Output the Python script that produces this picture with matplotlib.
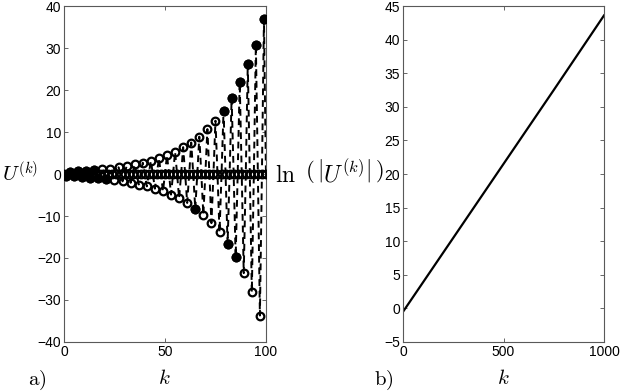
import numpy as np
import matplotlib
matplotlib.use("Agg")
import matplotlib.pyplot as plt

plt.rcParams['font.family'] = ['Liberation Sans', 'DejaVu Sans']
plt.rcParams['mathtext.fontset'] = 'cm'

# panel a): values
# positive peaks at k = 3, 7, ..., 99
k_pos = list(range(3, 100, 4))
u_pos = [0.5, 0.6, 0.75, 0.9, 1.1, 1.3, 1.6, 1.9, 2.3, 2.7, 3.2, 3.8, 4.5,
         5.3, 6.4, 7.5, 8.9, 10.7, 12.7, 15.1, 18.1, 21.9, 26.3, 30.8, 36.8]
# negative peaks at k = 1, 5, ..., 97
k_neg = list(range(1, 98, 4))
u_neg = [-0.45, -0.55, -0.7, -0.85, -1.0, -1.2, -1.45, -1.75, -2.1, -2.5,
         -2.95, -3.5, -4.1, -4.9, -5.8, -6.9, -8.3, -9.7, -11.7, -13.9,
         -16.6, -19.8, -23.6, -28.2, -33.7]
# markers that look filled in the reference
filled_k = [1, 5, 9, 13, 17, 21, 3, 7, 11, 15, 79, 83, 87, 91, 95, 99,
            65, 81, 85]

# panel b): ln(|U^(k)|)
k_b = [0, 250, 500, 750, 1000]
ln_u = [-0.5, 10.5, 21.5, 32.5, 43.6]

# full sequence, even k are zero
k_all = np.arange(0, 101)
u_all = np.zeros(101)
u_all[k_pos] = u_pos
u_all[k_neg] = u_neg

fig = plt.figure(figsize=(6.23, 3.92), dpi=100)
ax1 = fig.add_axes([0.1027, 0.1276, 0.3242, 0.857])
ax2 = fig.add_axes([0.6469, 0.1276, 0.3226, 0.857])

dash = (0, (3.5, 2.5))
ax1.plot(k_all, u_all, color='k', lw=1.4, ls=dash, zorder=2)
ax1.plot(k_all, u_all, ls='none', marker='o', ms=5.5, mec='k', mfc='none',
         mew=1.6, zorder=3)
fk = np.array(filled_k)
ax1.plot(fk, u_all[fk], ls='none', marker='o', ms=5.5, mec='k', mfc='k',
         mew=1.6, zorder=3)
ax1.set_xlim(0, 100)
ax1.set_ylim(-40, 40)
ax1.set_xticks([0, 50, 100])
ax1.set_yticks(range(-40, 41, 10))

ax2.plot(k_b, ln_u, color='k', lw=1.6)
ax2.set_xlim(0, 1000)
ax2.set_ylim(-5, 45)
ax2.set_xticks([0, 500, 1000])
ax2.set_yticks(range(-5, 46, 5))

for ax in (ax1, ax2):
    ax.tick_params(direction='in', length=3, width=0.6, top=True, right=True,
                   labelsize=10, pad=2, color='0.3')
    for s in ax.spines.values():
        s.set_color('0.35')
        s.set_linewidth(0.8)

fig.text(0.003, 0.558, r'$U^{(k)}$', fontsize=15, va='center', ha='left')
fig.text(0.441, 0.558, r'$\ln\ \left(\,\left|U^{(k)}\right|\,\right)$',
         fontsize=17, va='center', ha='left')
fig.text(0.045, 0.03, r'$\mathrm{a)}$', fontsize=15, va='center', ha='left')
fig.text(0.6, 0.03, r'$\mathrm{b)}$', fontsize=15, va='center', ha='left')
fig.text(0.264, 0.035, r'$k$', fontsize=15, va='center', ha='center')
fig.text(0.808, 0.035, r'$k$', fontsize=15, va='center', ha='center')

fig.savefig('out.png', dpi=100)
